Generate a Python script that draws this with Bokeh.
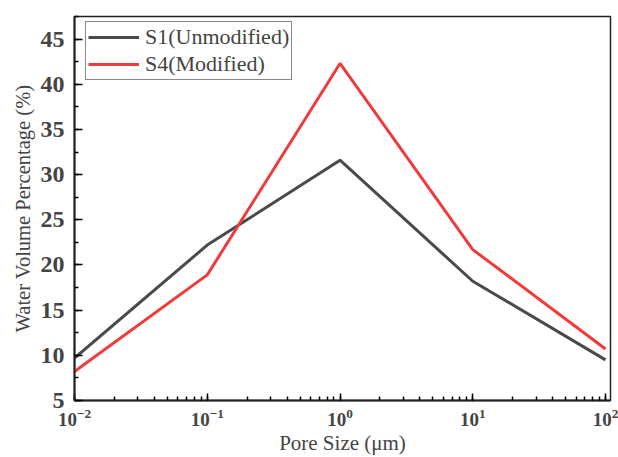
from bokeh.plotting import figure
from bokeh.models import SingleIntervalTicker, Range1d, Legend, LegendItem, LogTicker
from bokeh.embed import file_html
from bokeh.resources import INLINE

pore_size = [0.01, 0.1, 1, 10, 100]
s1_unmodified = [9.7, 22.2, 31.6, 18.2, 9.5]
s4_modified = [8.2, 18.9, 42.3, 21.7, 10.7]

p = figure(width=618, height=457, x_axis_type="log", output_backend="svg",
           toolbar_location=None, x_range=Range1d(0.01, 109), y_range=Range1d(5, 47.5),
           min_border_left=74, min_border_right=8, min_border_top=16, min_border_bottom=56)
p.xgrid.visible = False
p.ygrid.visible = False
p.outline_line_color = "#222222"
p.outline_line_width = 1.5
p.background_fill_color = "white"
p.border_fill_color = "white"

r1 = p.line(pore_size, s1_unmodified, line_color="#4a4a4a", line_width=3)
r2 = p.line(pore_size, s4_modified, line_color="#ee3b3b", line_width=3)

serif = "Liberation Serif"
# x axis
xa = p.xaxis[0]
xa.ticker = LogTicker(num_minor_ticks=10)
xa.axis_label = "Pore Size (\u03bcm)"
xa.axis_label_text_font = serif
xa.axis_label_text_font_style = "normal"
xa.axis_label_text_font_size = "21px"
xa.axis_label_standoff = 2
xa.major_label_text_font = serif
xa.major_label_text_font_style = "bold"
xa.major_label_text_font_size = "19px"
xa.major_label_standoff = 8
xa.major_tick_in = 7
xa.major_tick_out = 0
xa.minor_tick_in = 4
xa.minor_tick_out = 0
xa.axis_line_width = 2
xa.major_tick_line_width = 1.5
xa.minor_tick_line_width = 1.5
xa.axis_line_color = "#222222"

# y axis
ya = p.yaxis[0]
ya.ticker = SingleIntervalTicker(interval=5, num_minor_ticks=2)
ya.axis_label = "Water Volume Percentage (%)"
ya.axis_label_text_font = serif
ya.axis_label_text_font_style = "normal"
ya.axis_label_text_font_size = "20.5px"
ya.axis_label_standoff = 4
ya.major_label_text_font = serif
ya.major_label_text_font_style = "bold"
ya.major_label_text_font_size = "24px"
ya.major_label_standoff = 10
ya.major_tick_in = 8
ya.major_tick_out = 0
ya.minor_tick_in = 4
ya.minor_tick_out = 0
ya.axis_line_width = 2
ya.major_tick_line_width = 1.5
ya.minor_tick_line_width = 1.5
ya.axis_line_color = "#222222"

legend = Legend(items=[LegendItem(label="S1(Unmodified)", renderers=[r1]),
                       LegendItem(label="S4(Modified)", renderers=[r2])],
                location=(11, 320))
legend.label_text_font = serif
legend.label_text_font_size = "22px"
legend.glyph_width = 51
legend.glyph_height = 24
legend.label_height = 24
legend.spacing = 1
legend.padding = 2
legend.margin = 0
legend.label_standoff = 6
legend.border_line_color = "#111111"
legend.border_line_width = 1.2
legend.background_fill_alpha = 1
p.add_layout(legend)

open("out.html", "w").write(file_html(p, INLINE))
